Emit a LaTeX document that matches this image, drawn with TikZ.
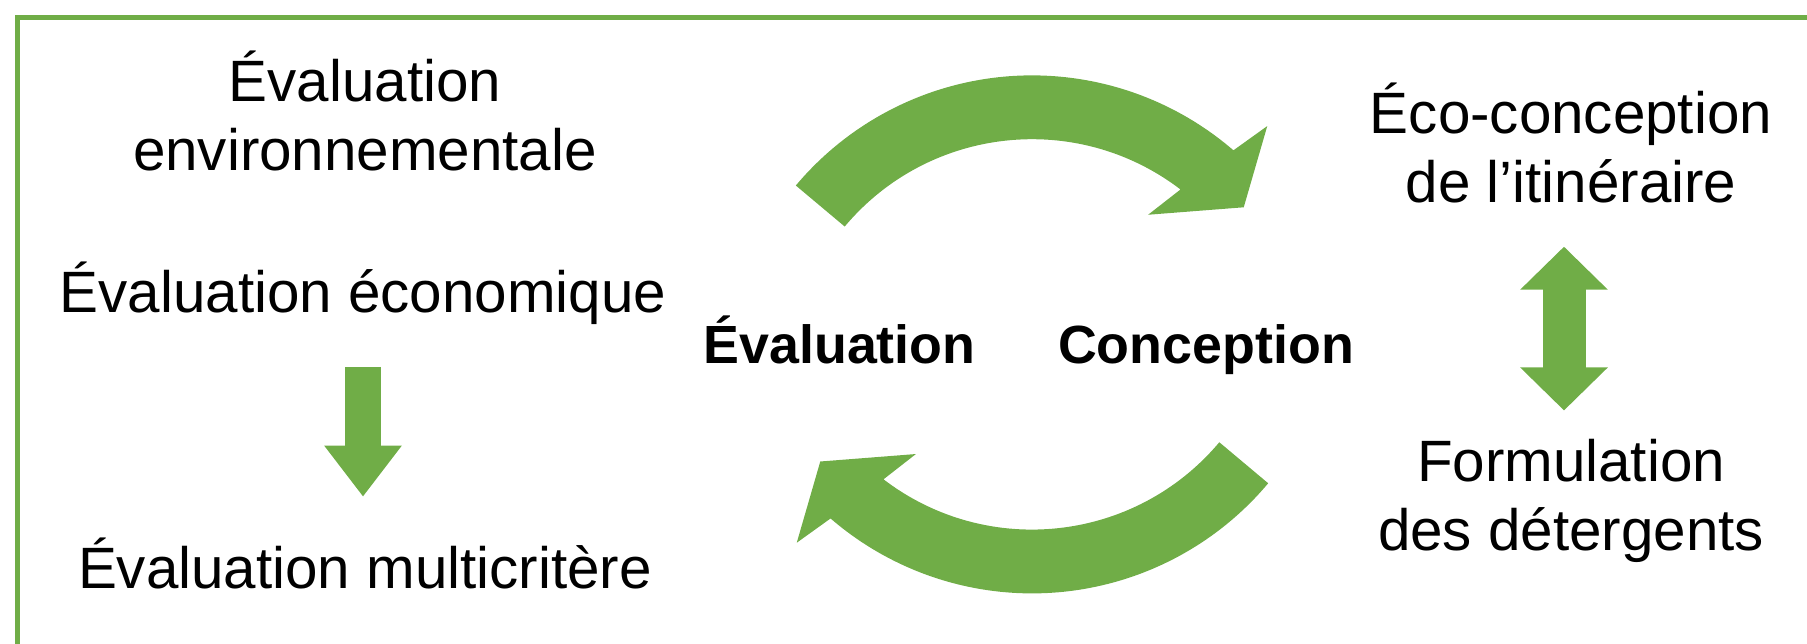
\documentclass[tikz,border=0pt]{standalone}
\usepackage{fontspec}
\setmainfont{Liberation Sans}
\usetikzlibrary{arrows.meta}
\definecolor{leaf}{RGB}{112,173,71}

\newcommand{\cyclearrow}{%
  \fill[leaf] (140:3.083) arc[start angle=140,end angle=49.2,radius=3.083]
    -- (47.6:3.489) -- (39.8:2.756) -- (55.5:2.05) -- (52.6:2.445)
    arc[start angle=52.6,end angle=140,radius=2.445] -- cycle;}

\begin{document}
\begin{tikzpicture}[
    txt/.style={inner sep=0pt,align=center,anchor=base,font=\fontsize{16.6}{19.9}\selectfont},
    bold/.style={inner sep=0pt,anchor=base,font=\fontsize{15.3}{18}\selectfont\bfseries},
    block/.style={leaf,line width=#1,line cap=butt}]
  \useasboundingbox (0,0) rectangle (18.07,6.44);
  \clip (0,0) rectangle (18.07,6.44);
  \draw[leaf,line width=0.55mm] (0.175,-1) |- (19,6.265);

  \node[txt] (env)   at (3.65,4.73)  {Évaluation\\environnementale};
  \node[txt] (econ)  at (3.63,3.31)  {Évaluation économique};
  \node[txt] (multi) at (3.65,0.55)  {Évaluation multicritère};
  \node[bold] (eval) at (8.395,2.80) {Évaluation};
  \node[bold] (conc) at (12.06,2.80) {Conception};
  \node[txt] (itin)  at (15.71,4.41) {Éco-conception\\de l’itinéraire};
  \node[txt] (form)  at (15.71,0.93) {Formulation\\des détergents};

  \draw[block=3.6mm,-{Triangle[width=7.4mm,length=5.1mm]},
    shorten <=4.1mm,shorten >=4.1mm] (econ.south) -- (econ.south |- multi.north);
  \draw[block=4.3mm,{Triangle[width=8.5mm,length=4.3mm]}-{Triangle[width=8.5mm,length=4.3mm]},
    shorten <=4.24mm,shorten >=2.76mm] (itin.south -| 15.64,0) -- (15.64,0 |- form.north);

  % the two bent arrows of the cycle
  \coordinate (hub) at (10.32,3.096);
  \begin{scope}[shift={(hub)},yshift=-4.93mm]
    \cyclearrow
  \end{scope}
  \begin{scope}[shift={(hub)},rotate=180,yshift=-4.93mm]
    \cyclearrow
  \end{scope}
\end{tikzpicture}
\end{document}
